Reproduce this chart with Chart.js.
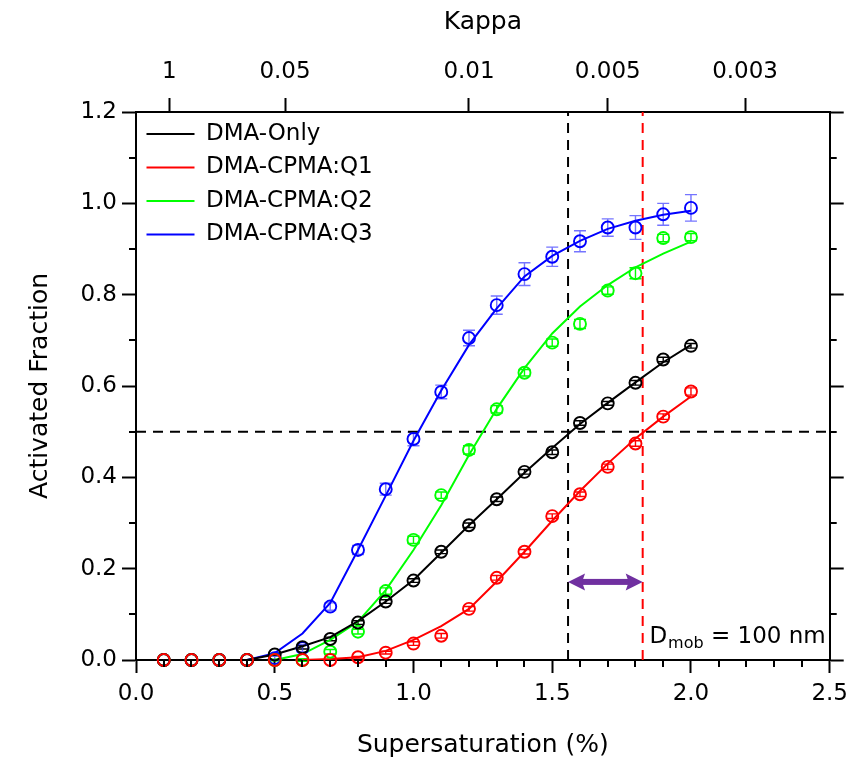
<!DOCTYPE html>
<html>
<head>
<meta charset="utf-8">
<script src="https://cdn.jsdelivr.net/npm/chart.js@4.4.0/dist/chart.umd.min.js"></script>
<style>
  body { margin: 0; background: #fff; }
  #wrap { width: 855px; height: 770px; }
</style>
</head>
<body>
<div id="wrap"><canvas id="activation"></canvas></div>
<script>
// supersaturation (%) where each point was measured
const supersat = [0.1, 0.2, 0.3, 0.4, 0.5, 0.6, 0.7, 0.8, 0.9, 1.0,
                  1.1, 1.2, 1.3, 1.4, 1.5, 1.6, 1.7, 1.8, 1.9, 2.0];

// measured activated fraction
const afOnly = [0, 0, 0, 0, 0.012, 0.028, 0.046, 0.082, 0.128, 0.174,
                0.237, 0.295, 0.352, 0.412, 0.455, 0.519, 0.562, 0.607, 0.658, 0.688];
const afQ1 = [0, 0, 0, 0, 0, 0, 0, 0.006, 0.016, 0.036,
              0.053, 0.112, 0.180, 0.237, 0.315, 0.363, 0.423, 0.474, 0.533, 0.588];
const afQ2 = [0, 0, 0, 0, 0, 0, 0.018, 0.062, 0.151, 0.263,
              0.361, 0.460, 0.549, 0.629, 0.695, 0.736, 0.809, 0.847, 0.924, 0.926];
const afQ3 = [0, 0, 0, 0, 0.004, 0.026, 0.117, 0.241, 0.374, 0.484,
              0.587, 0.705, 0.777, 0.845, 0.883, 0.917, 0.947, 0.947, 0.976, 0.990];

// error bars (+/-)
const errOnly = [0, 0, 0, 0, 0.002, 0.004, 0.004, 0.004, 0.004, 0.004,
                 0.004, 0.005, 0.005, 0.005, 0.005, 0.005, 0.004, 0.005, 0.005, 0.005];
const errQ1 = [0, 0, 0, 0, 0, 0, 0, 0.002, 0.003, 0.004,
               0.005, 0.005, 0.005, 0.005, 0.005, 0.005, 0.006, 0.006, 0.006, 0.008];
const errQ2 = [0, 0, 0, 0, 0.002, 0.003, 0.005, 0.005, 0.007, 0.008,
               0.007, 0.009, 0.008, 0.007, 0.008, 0.010, 0.008, 0.012, 0.008, 0.008];
const errQ3 = [0, 0, 0, 0, 0.004, 0.008, 0.008, 0.010, 0.013, 0.015,
               0.015, 0.017, 0.020, 0.025, 0.021, 0.023, 0.019, 0.026, 0.024, 0.029];

// sigmoid fits (null = fit not drawn there)
const fitOnly = [0, 0, 0, 0, 0.012, 0.030, 0.050, 0.085, 0.128, 0.175,
                 0.235, 0.295, 0.352, 0.410, 0.464, 0.517, 0.563, 0.608, 0.652, 0.690];
const fitQ1 = [null, null, null, null, null, 0, 0.002, 0.006, 0.020, 0.044,
               0.074, 0.112, 0.172, 0.237, 0.305, 0.370, 0.430, 0.485, 0.533, 0.577];
const fitQ2 = [null, null, null, null, 0, 0.013, 0.044, 0.084, 0.153, 0.241,
               0.339, 0.449, 0.550, 0.639, 0.715, 0.774, 0.821, 0.860, 0.890, 0.916];
const fitQ3 = [0, 0, 0, 0, 0.015, 0.058, 0.125, 0.241, 0.360, 0.480,
               0.590, 0.690, 0.770, 0.840, 0.885, 0.918, 0.944, 0.962, 0.975, 0.984];

const seriesNames = ["DMA-Only", "DMA-CPMA:Q1", "DMA-CPMA:Q2", "DMA-CPMA:Q3"];
const seriesColors = ["#000000", "#ff0000", "#00ff00", "#0000ff"];
const errColors = ["#000000", "#ff0000", "#00ff00", "rgba(70,70,255,0.75)"];

// top axis: kappa labels and the supersaturation they sit at
const kappaTicks = ["1", "0.05", "0.01", "0.005", "0.003"];
const kappaTickAt = [0.12, 0.537, 1.20, 1.70, 2.195];

// reference lines: 50% activation and critical supersaturations
const halfActivated = 0.5;
const scritOnly = 1.557;
const scritQ1 = 1.826;
const arrowLevel = 0.171;

const FAMILY = "'DejaVu Sans', sans-serif";
const font = { family: FAMILY, size: 23 };
const titleFont = { family: FAMILY, size: 25 };
const meas = [afOnly, afQ1, afQ2, afQ3];
const errs = [errOnly, errQ1, errQ2, errQ3];
const fits = [fitOnly, fitQ1, fitQ2, fitQ3];

const pts = (ys) => supersat.map((s, i) => ({ x: s, y: ys[i] }));

const datasets = [];
fits.forEach((f, i) => {
  datasets.push({
    label: seriesNames[i],
    data: pts(f),
    borderColor: seriesColors[i],
    backgroundColor: seriesColors[i],
    borderWidth: 2,
    pointRadius: 0,
    tension: 0,
    order: 10 + i,
  });
});
// markers, red on top
[1, 0, 2, 3].forEach((i, k) => {
  datasets.push({
    label: seriesNames[i] + " data",
    data: pts(meas[i]),
    showLine: false,
    borderColor: seriesColors[i],
    backgroundColor: "rgba(0,0,0,0)",
    pointRadius: 6,
    pointBorderWidth: 1.9,
    clip: false,
    order: k,
  });
});
const dashed = (data, color) => ({
  label: "ref",
  data,
  borderColor: color,
  borderWidth: 2,
  borderDash: [10, 7],
  pointRadius: 0,
  order: 30,
});
datasets.push(dashed([{ x: 0, y: halfActivated }, { x: 2.5, y: halfActivated }], "#000"));
datasets.push(dashed([{ x: scritOnly, y: 0 }, { x: scritOnly, y: 1.2 }], "#000"));
datasets.push(dashed([{ x: scritQ1, y: 0 }, { x: scritQ1, y: 1.2 }], "#ff0000"));

const extras = {
  id: "extras",
  afterLayout(chart) {
    // legend sits in the plot corner
    const lg = chart.legend;
    if (lg) {
      lg.top = chart.chartArea.top;
      lg.bottom = chart.chartArea.bottom;
    }
  },
  beforeDatasetsDraw(chart) {
    const { ctx, scales: { x, y } } = chart;
    meas.forEach((vals, si) => {
      ctx.save();
      ctx.strokeStyle = errColors[si];
      ctx.lineWidth = 1.4;
      supersat.forEach((s, i) => {
        const e = errs[si][i];
        if (!e) return;
        const px = x.getPixelForValue(s);
        const t = y.getPixelForValue(vals[i] + e);
        const b = y.getPixelForValue(vals[i] - e);
        ctx.beginPath();
        ctx.moveTo(px, t); ctx.lineTo(px, b);
        ctx.moveTo(px - 6, t); ctx.lineTo(px + 6, t);
        ctx.moveTo(px - 6, b); ctx.lineTo(px + 6, b);
        ctx.stroke();
      });
      ctx.restore();
    });
  },
  afterDraw(chart) {
    const { ctx, chartArea: a, scales: { x, y } } = chart;
    ctx.save();
    // minor ticks
    ctx.strokeStyle = "#000";
    ctx.lineWidth = 2;
    ctx.beginPath();
    for (let k = 1; k < 25; k++) {
      if (k % 5 === 0) continue;
      const px = Math.round(x.getPixelForValue(k / 10));
      ctx.moveTo(px, a.bottom); ctx.lineTo(px, a.bottom + 7);
    }
    for (let k = 1; k < 12; k += 2) {
      const py = Math.round(y.getPixelForValue(k / 10));
      ctx.moveTo(a.left, py); ctx.lineTo(a.left - 7, py);
      ctx.moveTo(a.right, py); ctx.lineTo(a.right + 7, py);
    }
    ctx.stroke();

    // double arrow between the two critical supersaturations
    const xa = x.getPixelForValue(scritOnly);
    const xb = x.getPixelForValue(scritQ1);
    const ya = y.getPixelForValue(arrowLevel);
    ctx.fillStyle = "#7030a0";
    ctx.fillRect(xa + 12, ya - 3, xb - xa - 24, 6);
    ctx.beginPath();
    ctx.moveTo(xa, ya); ctx.lineTo(xa + 17, ya - 8.5); ctx.lineTo(xa + 14, ya); ctx.lineTo(xa + 17, ya + 8.5);
    ctx.closePath(); ctx.fill();
    ctx.beginPath();
    ctx.moveTo(xb, ya); ctx.lineTo(xb - 17, ya - 8.5); ctx.lineTo(xb - 14, ya); ctx.lineTo(xb - 17, ya + 8.5);
    ctx.closePath(); ctx.fill();

    // D_mob label, right-aligned in the bottom corner
    ctx.fillStyle = "#000";
    ctx.textBaseline = "alphabetic";
    ctx.textAlign = "left";
    const big = "23px " + FAMILY, small = "16px " + FAMILY;
    ctx.font = big;
    const wD = ctx.measureText("D").width;
    const wRest = ctx.measureText(" = 100 nm").width;
    ctx.font = small;
    const wSub = ctx.measureText("mob").width;
    let tx = a.right - 4 - (wD + 1 + wSub + wRest);
    const base = a.bottom - 17;
    ctx.font = big;
    ctx.fillText("D", tx, base);
    tx += wD + 1;
    ctx.font = small;
    ctx.fillText("mob", tx, base + 5);
    tx += wSub;
    ctx.font = big;
    ctx.fillText(" = 100 nm", tx, base);
    ctx.restore();
  },
};

const axisGrid = (len) => ({ drawOnChartArea: false, tickLength: len, tickWidth: 2, tickColor: "#000" });
const axisBorder = { color: "#000", width: 2 };

new Chart(document.getElementById("activation"), {
  type: "line",
  data: { datasets },
  options: {
    responsive: true,
    maintainAspectRatio: false,
    animation: false,
    layout: { padding: 0 },
    plugins: {
      tooltip: { enabled: false },
      legend: {
        position: "chartArea",
        align: "start",
        labels: {
          usePointStyle: true,
          pointStyle: "line",
          pointStyleWidth: 48,
          font,
          color: "#000",
          padding: 10.5,
          filter: (item) => item.datasetIndex < 4,
        },
      },
    },
    scales: {
      x: {
        type: "linear",
        position: "bottom",
        min: 0,
        max: 2.5,
        ticks: { stepSize: 0.5, callback: (v) => v.toFixed(1), font, color: "#000", padding: 7, maxRotation: 0 },
        grid: axisGrid(13),
        border: axisBorder,
        title: { display: true, text: "Supersaturation (%)", font: titleFont, color: "#000", padding: { top: 0, bottom: 10 } },
        afterFit: (s) => { s.height = 110; },
      },
      kappa: {
        type: "linear",
        position: "top",
        min: 0,
        max: 2.5,
        afterBuildTicks: (s) => { s.ticks = kappaTickAt.map((v) => ({ value: v })); },
        ticks: { callback: (v, i) => kappaTicks[i], autoSkip: false, maxRotation: 0, font, color: "#000", padding: 12 },
        grid: axisGrid(14),
        border: axisBorder,
        title: { display: true, text: "Kappa", font: titleFont, color: "#000", padding: { top: 7, bottom: 0 } },
        afterFit: (s) => { s.height = 112; },
      },
      y: {
        min: 0,
        max: 1.2,
        ticks: { stepSize: 0.2, callback: (v) => v.toFixed(1), font, color: "#000", padding: 5 },
        grid: axisGrid(14),
        border: axisBorder,
        title: { display: true, text: "Activated Fraction", font: titleFont, color: "#000", padding: { top: 25, bottom: 0 } },
        afterFit: (s) => { s.width = 136; },
      },
      y2: {
        position: "right",
        min: 0,
        max: 1.2,
        ticks: { stepSize: 0.2, display: false },
        grid: axisGrid(14),
        border: axisBorder,
        afterFit: (s) => { s.width = 22; },
      },
    },
  },
  plugins: [extras],
});
</script>
</body>
</html>
